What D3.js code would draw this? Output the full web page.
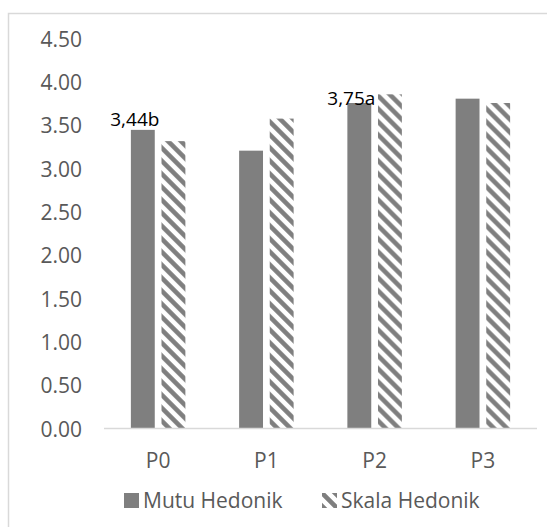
<!DOCTYPE html>
<html>
<head>
<meta charset="utf-8">
<script src="https://cdn.jsdelivr.net/npm/d3@7"></script>
<style>
  html, body { margin: 0; padding: 0; background: #fff; }
  svg { display: block; }
  text { font-family: "Open Sans", "Liberation Sans", sans-serif; }
</style>
</head>
<body>
<svg id="chart" width="547" height="527"></svg>
<script>
const categories = ["P0", "P1", "P2", "P3"];
const mutuHedonik = [3.44, 3.20, 3.75, 3.80];
const skalaHedonik = [3.31, 3.57, 3.85, 3.75];
const seriesNames = ["Mutu Hedonik", "Skala Hedonik"];
const yTicks = [0, 0.5, 1, 1.5, 2, 2.5, 3, 3.5, 4, 4.5];
const dataLabels = [
  { cat: "P0", text: "3,44b", value: 3.44 },
  { cat: "P2", text: "3,75a", value: 3.75 }
];

const svg = d3.select("#chart");
const fg = "#7f7f7f";
const textColor = "#595959";

// pattern
const defs = svg.append("defs");
const P = 13;
const pat = defs.append("pattern")
  .attr("id", "hatch")
  .attr("patternUnits", "userSpaceOnUse")
  .attr("width", P).attr("height", P);
pat.append("rect").attr("width", P).attr("height", P).attr("fill", "#fff");
pat.append("path")
  .attr("d", `M-2,-2 L${P+2},${P+2} M-2,${P-2} L2,${P+2} M${P-2},-2 L${P+2},2`)
  .attr("stroke", fg).attr("stroke-width", 4.6).attr("fill", "none");

// chart border
svg.append("rect")
  .attr("x", 8.5).attr("y", 13.5)
  .attr("width", 600).attr("height", 600)
  .attr("fill", "#fff").attr("stroke", "#d9d9d9").attr("stroke-width", 1.5);

const plot = { left: 104, right: 537, top: 38, bottom: 428 };

const x = d3.scaleBand().domain(categories).range([plot.left, plot.right]).paddingInner(0).paddingOuter(0);
const y = d3.scaleLinear().domain([0, 4.5]).range([plot.bottom, plot.top]);
const x1 = d3.scaleBand().domain(seriesNames).range([0, 54.5]).paddingInner(0.22);
const groupOffset = (x.bandwidth() - 54.5) / 2;

// y axis labels
const yAxis = d3.axisLeft(y).tickValues(yTicks).tickFormat(d3.format(".2f")).tickSize(0).tickPadding(0);
const gy = svg.append("g").attr("transform", `translate(82,0)`).call(yAxis);
gy.select(".domain").remove();
gy.selectAll("text")
  .attr("fill", textColor).attr("font-size", 21)
  .attr("dy", null).attr("y", 8);

// bars
const rows = categories.map((c, i) => ({ cat: c, vals: [mutuHedonik[i], skalaHedonik[i]] }));
const groups = svg.append("g").selectAll("g").data(rows).join("g")
  .attr("transform", d => `translate(${x(d.cat) + groupOffset},0)`);
groups.selectAll("rect").data(d => d.vals.map((v, j) => ({ name: seriesNames[j], v, j })))
  .join("rect")
  .attr("x", d => x1(d.name))
  .attr("width", x1.bandwidth())
  .attr("y", d => y(d.v))
  .attr("height", d => y(0) - y(d.v))
  .attr("fill", d => d.j === 0 ? fg : "url(#hatch)");

// x axis
const xAxis = d3.axisBottom(x).tickSize(0).tickPadding(0);
const gx = svg.append("g").attr("transform", `translate(0,${plot.bottom})`).call(xAxis);
gx.select(".domain").attr("stroke", "#d9d9d9").attr("stroke-width", 1.5).attr("d", `M${plot.left},0.5H${plot.right}`);
gx.selectAll("text").attr("fill", textColor).attr("font-size", 21).attr("dy", null).attr("y", 40);

// data labels
const labelDy = { "P0": -4, "P2": 1.5 };
svg.append("g").selectAll("text").data(dataLabels).join("text")
  .attr("x", d => x(d.cat) + groupOffset + x1(seriesNames[0]) + x1.bandwidth() / 2 - 8)
  .attr("y", d => y(d.value) + labelDy[d.cat])
  .attr("text-anchor", "middle")
  .attr("font-size", 19)
  .attr("fill", "#000")
  .text(d => d.text);

// legend
const legendItems = [
  { name: seriesNames[0], fill: fg, x: 124 },
  { name: seriesNames[1], fill: "url(#hatch)", x: 322 }
];
const lg = svg.append("g").selectAll("g").data(legendItems).join("g")
  .attr("transform", d => `translate(${d.x},493)`);
lg.append("rect").attr("width", 15).attr("height", 15).attr("fill", d => d.fill);
lg.append("text").attr("x", 19).attr("y", 15).attr("font-size", 21).attr("fill", textColor).text(d => d.name);
</script>
</body>
</html>
